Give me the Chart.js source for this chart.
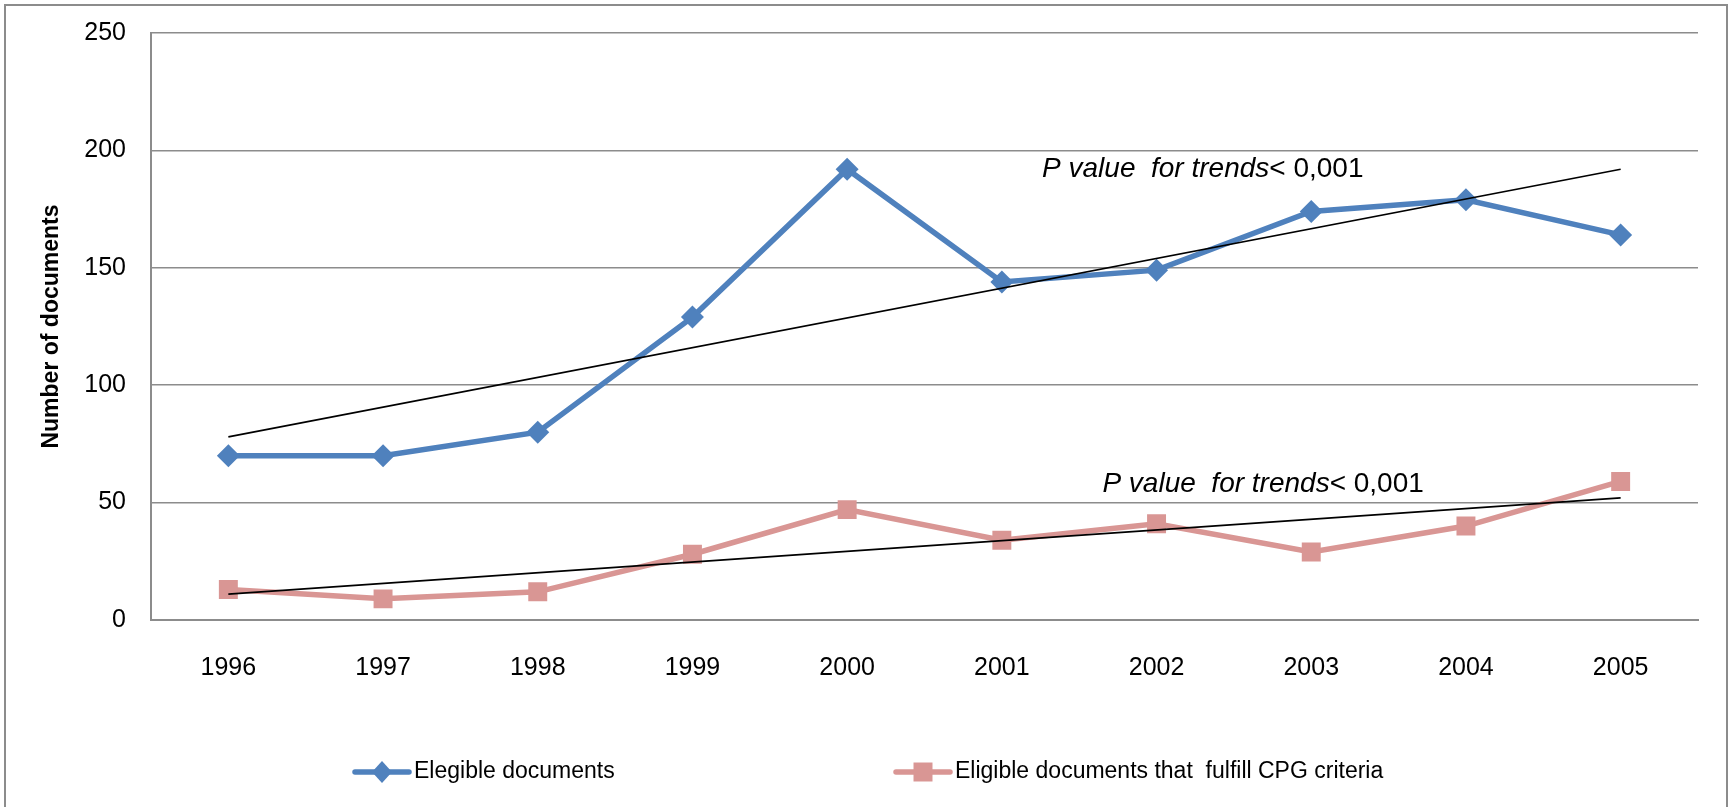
<!DOCTYPE html>
<html>
<head>
<meta charset="utf-8">
<script src="https://cdn.jsdelivr.net/npm/chart.js@4/dist/chart.umd.min.js"></script>
<style>
  body { margin: 0; background: #fff; }
  canvas { display: block; }
</style>
</head>
<body>
<canvas id="myChart" width="1732" height="807"></canvas>
<script>
// data
const years = ['1996', '1997', '1998', '1999', '2000', '2001', '2002', '2003', '2004', '2005'];
const elegibleDocs = [70, 70, 80, 129, 192, 144, 149, 174, 179, 164];
const cpgDocs = [13, 9, 12, 28, 47, 34, 41, 29, 40, 59];
// trend lines, only the two end points (1996 and 2005)
const elegibleTrend = [78, null, null, null, null, null, null, null, null, 192];
const cpgTrend = [11, null, null, null, null, null, null, null, null, 52];
const yTicks = [0, 50, 100, 150, 200, 250];
const seriesNames = ['Elegible documents', 'Eligible documents that  fulfill CPG criteria'];
const trendText = 'P value  for trends';
const trendValue = '< 0,001';

const FONT = "'Liberation Sans', Arial, sans-serif";
const BLUE = '#4F81BD';
const PINK = '#D99694';
const GRID = '#8C8C8C';

Chart.defaults.font.family = FONT;
Chart.defaults.color = '#000';

// small drawing of a legend symbol (line + marker)
function legendSymbol(ctx, x, y, color, style) {
    ctx.save();
    ctx.strokeStyle = color;
    ctx.fillStyle = color;
    ctx.lineWidth = 5.5;
    ctx.lineCap = 'round';
    ctx.beginPath();
    ctx.moveTo(x, y);
    ctx.lineTo(x + 54, y);
    ctx.stroke();
    const cx = x + 27;
    ctx.beginPath();
    if (style === 'rectRot') {
        ctx.moveTo(cx - 10, y);
        ctx.lineTo(cx, y - 11);
        ctx.lineTo(cx + 10, y);
        ctx.lineTo(cx, y + 11);
        ctx.closePath();
    } else {
        ctx.rect(cx - 9.5, y - 9.5, 19, 19);
    }
    ctx.fill();
    ctx.restore();
}

const framePlugin = {
    id: 'frame',
    beforeDraw(chart) {
        const ctx = chart.ctx;
        ctx.save();
        ctx.fillStyle = '#fff';
        ctx.fillRect(0, 0, chart.width, chart.height);
        ctx.strokeStyle = GRID;
        ctx.lineWidth = 2;
        ctx.strokeRect(5, 5, 1722, 900);
        ctx.restore();
    },
    afterDraw(chart) {
        const ctx = chart.ctx;
        const x = chart.scales.x;
        const y = chart.scales.y;

        // P value labels, anchored in data units
        ctx.save();
        ctx.textBaseline = 'middle';
        const notes = [[5.26, 192], [5.65, 58]];
        notes.forEach(n => {
            const px = x.getPixelForValue(n[0]);
            const py = y.getPixelForValue(n[1]);
            ctx.font = 'italic 28px ' + FONT;
            ctx.fillText(trendText, px, py);
            const w = ctx.measureText(trendText).width;
            ctx.font = '28px ' + FONT;
            ctx.fillText(trendValue, px + w, py);
        });

        // legend under the axis
        const legendY = 772;
        const legendX = [355, 896];
        ctx.font = '23px ' + FONT;
        const ds = chart.data.datasets.filter(d => !d.isTrend);
        ds.forEach((d, i) => {
            legendSymbol(ctx, legendX[i], legendY, d.borderColor, d.pointStyle);
            ctx.fillStyle = '#000';
            ctx.fillText(d.label, legendX[i] + 59, legendY);
        });
        ctx.restore();
    }
};

const ctx = document.getElementById('myChart').getContext('2d');
const myChart = new Chart(ctx, {
    type: 'line',
    data: {
        labels: years,
        datasets: [
            {
                label: 'trend1',
                isTrend: true,
                data: elegibleTrend,
                spanGaps: true,
                borderColor: '#000',
                borderWidth: 1.6,
                pointRadius: 0,
                order: 0
            },
            {
                label: 'trend2',
                isTrend: true,
                data: cpgTrend,
                spanGaps: true,
                borderColor: '#000',
                borderWidth: 1.6,
                pointRadius: 0,
                order: 0
            },
            {
                label: seriesNames[0],
                data: elegibleDocs,
                borderColor: BLUE,
                backgroundColor: BLUE,
                borderWidth: 5.5,
                pointStyle: 'rectRot',
                pointRadius: 11.5,
                pointBorderWidth: 0,
                order: 1
            },
            {
                label: seriesNames[1],
                data: cpgDocs,
                borderColor: PINK,
                backgroundColor: PINK,
                borderWidth: 5.5,
                pointStyle: 'rect',
                pointRadius: 13.4,
                pointBorderWidth: 0,
                order: 1
            }
        ]
    },
    options: {
        responsive: false,
        animation: false,
        layout: {
            padding: { left: 10, right: 34, top: 33, bottom: 127 }
        },
        plugins: {
            legend: { display: false },
            tooltip: { enabled: false }
        },
        scales: {
            x: {
                offset: true,
                grid: { display: false, drawTicks: false },
                border: { display: true, color: GRID, width: 2 },
                ticks: { font: { size: 25 }, padding: 33, maxRotation: 0 },
                afterFit(scale) { scale.height = 60; }
            },
            y: {
                min: 0,
                max: 250,
                afterBuildTicks(scale) { scale.ticks = yTicks.map(v => ({ value: v })); },
                grid: { color: GRID, lineWidth: 1.5, drawTicks: false },
                border: { display: true, color: GRID, width: 2 },
                ticks: { font: { size: 25 }, padding: 25 },
                title: {
                    display: true,
                    text: 'Number of documents',
                    font: { size: 23, weight: 'bold' },
                    padding: { top: 28, bottom: 0 }
                },
                afterFit(scale) {
                    scale.width = 141;
                    scale.paddingTop = 0;
                    scale.paddingBottom = 0;
                }
            }
        }
    },
    plugins: [framePlugin]
});
</script>
</body>
</html>
